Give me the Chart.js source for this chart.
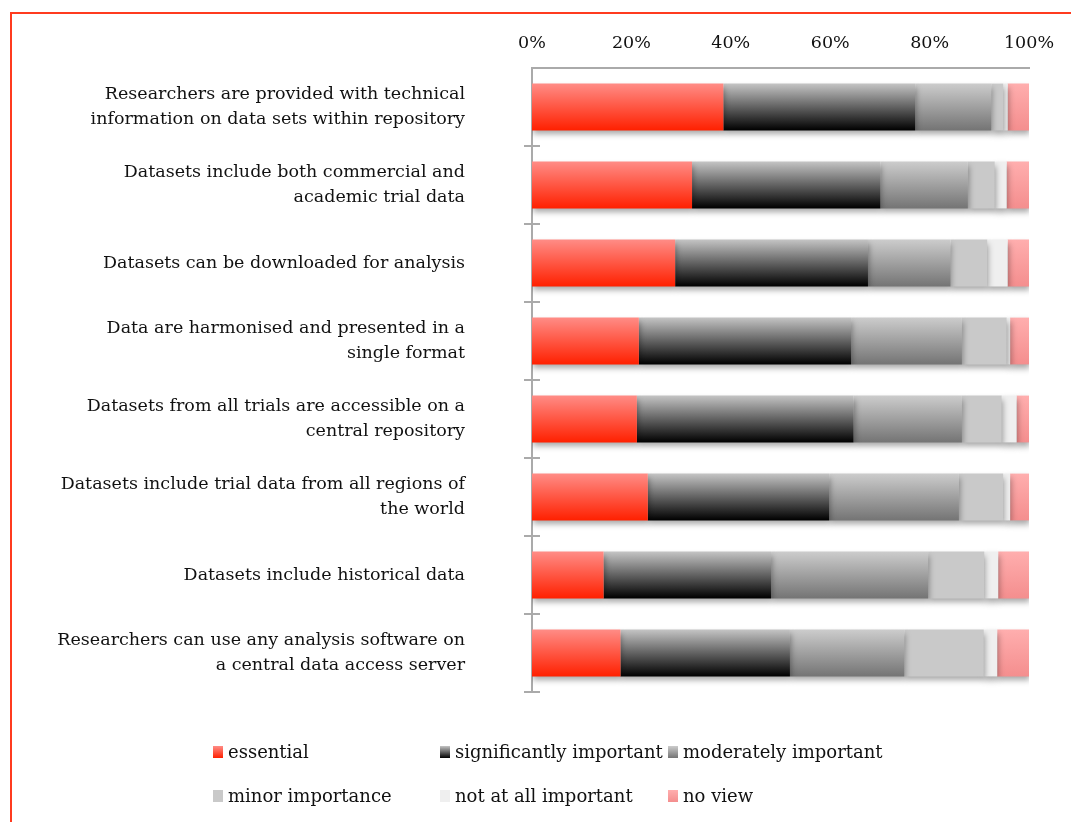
<!DOCTYPE html>
<html>
<head>
<meta charset="utf-8">
<script src="https://cdn.jsdelivr.net/npm/chart.js@4.4.0/dist/chart.umd.min.js"></script>
<style>
    html, body { margin: 0; padding: 0; background: #fff; overflow: hidden; }
    #wrap { position: relative; width: 1071px; height: 822px; overflow: hidden; }
    #frame { position: absolute; left: 10px; top: 12px; width: 1100px; height: 900px; border: 2px solid #ff3b1f; box-sizing: border-box; }
    #chart { position: absolute; left: 0; top: 0; }
    .item { position: absolute; font: 18px 'DejaVu Serif', serif; line-height: 20px; color: #111; white-space: nowrap; display: flex; align-items: center; }
    .box { width: 10px; height: 12px; margin-right: 5px; }
</style>
</head>
<body>
<div id="wrap">
    <div id="frame"></div>
    <canvas id="chart" width="1071" height="822"></canvas>
    <div id="legend"></div>
</div>
<script>
// categorias (rótulos em duas linhas quando preciso)
const categories = [
    ['Researchers are provided with technical', 'information on data sets within repository'],
    ['Datasets include both commercial and', 'academic trial data'],
    'Datasets can be downloaded for analysis',
    ['Data are harmonised and presented in a', 'single format'],
    ['Datasets from all trials are accessible on a', 'central repository'],
    ['Datasets include trial data from all regions of', 'the world'],
    'Datasets include historical data',
    ['Researchers can use any analysis software on', 'a central data access server']
];

const seriesNames = ['essential', 'significantly important', 'moderately important', 'minor importance', 'not at all important', 'no view'];

// valores em %
const essential     = [38.5, 32.2, 28.8, 21.5, 21.1, 23.3, 14.4, 17.8];
const significantly = [38.6, 37.9, 38.8, 42.7, 43.6, 36.5, 33.7, 34.1];
const moderately    = [15.3, 17.6, 16.6, 22.3, 21.8, 26.1, 31.6, 23.0];
const minor         = [2.4, 5.4, 7.4, 9.0, 8.0, 8.9, 11.3, 16.0];
const notAtAll      = [0.9, 2.4, 4.1, 0.7, 3.0, 1.4, 2.8, 2.7];
const noView        = [4.3, 4.5, 4.3, 3.8, 2.5, 3.8, 6.2, 6.4];

const xTicks = [0, 20, 40, 60, 80, 100];

const seriesValues = [essential, significantly, moderately, minor, notAtAll, noView];

// cores (topo -> base do degradê)
const fills = [
    { top: '#ff8c86', bottom: '#ff2000' },
    { top: '#c4c4c4', bottom: '#000000' },
    { top: '#cccccc', bottom: '#747474' },
    { top: '#c9c9c9', bottom: '#c9c9c9' },
    { top: '#efefef', bottom: '#efefef' },
    { top: '#ffaeae', bottom: '#f48e8e' }
];

const FONT = "'DejaVu Serif', serif";
const TEXT = '#111111';
const AXIS = '#aaaaaa';

function barFill(context, i) {
    var chart = context.chart;
    var y = chart.scales.y;
    var col = fills[i];
    if (!y || !chart.chartArea || context.type !== 'data') {
        return col.bottom;
    }
    var half = (y.height / categories.length) * 0.6 / 2;
    var yc = y.getPixelForValue(context.dataIndex);
    var g = chart.ctx.createLinearGradient(0, yc - half, 0, yc + half);
    g.addColorStop(0, col.top);
    g.addColorStop(1, col.bottom);
    return g;
}

// sombra por baixo das barras
const barShadow = {
    id: 'barShadow',
    beforeDatasetsDraw(chart) {
        var c = chart.ctx;
        c.save();
        c.shadowColor = 'rgba(0,0,0,0.35)';
        c.shadowBlur = 6;
        c.shadowOffsetX = 1;
        c.shadowOffsetY = 4;
    },
    afterDatasetsDraw(chart) {
        chart.ctx.restore();
    }
};

// marcas do eixo y cruzando a linha
const crossTicks = {
    id: 'crossTicks',
    afterDraw(chart) {
        var y = chart.scales.y;
        var c = chart.ctx;
        c.save();
        c.strokeStyle = AXIS;
        c.lineWidth = 2;
        for (var k = 1; k <= categories.length; k++) {
            var py = Math.round(y.getPixelForValue(k - 0.5));
            c.beginPath();
            c.moveTo(y.right - 8, py);
            c.lineTo(y.right + 8, py);
            c.stroke();
        }
        c.restore();
    }
};

new Chart(document.getElementById('chart'), {
    type: 'bar',
    data: {
        labels: categories,
        datasets: seriesNames.map(function (name, i) {
            return {
                label: name,
                data: seriesValues[i],
                backgroundColor: function (c) { return barFill(c, i); },
                borderWidth: 0,
                barPercentage: 0.6,
                categoryPercentage: 1
            };
        })
    },
    options: {
        indexAxis: 'y',
        responsive: false,
        animation: false,
        layout: { padding: { left: 0, right: 42, top: 0, bottom: 130 } },
        plugins: { legend: { display: false }, tooltip: { enabled: false } },
        scales: {
            x: {
                position: 'top',
                stacked: true,
                min: 0,
                max: 100,
                grid: { display: false, drawTicks: false },
                border: { display: true, color: AXIS, width: 2 },
                ticks: {
                    padding: 14,
                    color: TEXT,
                    font: { family: FONT, size: 17.5 },
                    callback: function (v) { return v + '%'; }
                },
                afterBuildTicks: function (s) { s.ticks = xTicks.map(function (v) { return { value: v }; }); },
                afterFit: function (s) { s.height = 68; s.paddingLeft = 0; s.paddingRight = 0; }
            },
            y: {
                stacked: true,
                grid: { display: false, drawTicks: false, offset: true },
                border: { display: true, color: AXIS, width: 2 },
                ticks: {
                    padding: 67,
                    color: TEXT,
                    font: { family: FONT, size: 17.5, lineHeight: 1.43 }
                },
                afterFit: function (s) { s.width = 532; s.paddingTop = 0; s.paddingBottom = 0; }
            }
        }
    },
    plugins: [barShadow, crossTicks]
});

// legenda em HTML (duas linhas, três colunas)
var legendPos = [[213, 742], [440, 742], [668, 742], [213, 786], [440, 786], [668, 786]];
var legend = document.getElementById('legend');
seriesNames.forEach(function (name, i) {
    var item = document.createElement('div');
    item.className = 'item';
    item.style.left = legendPos[i][0] + 'px';
    item.style.top = legendPos[i][1] + 'px';
    var box = document.createElement('span');
    box.className = 'box';
    box.style.background = 'linear-gradient(' + fills[i].top + ', ' + fills[i].bottom + ')';
    item.appendChild(box);
    item.appendChild(document.createTextNode(name));
    legend.appendChild(item);
});
</script>
</body>
</html>
